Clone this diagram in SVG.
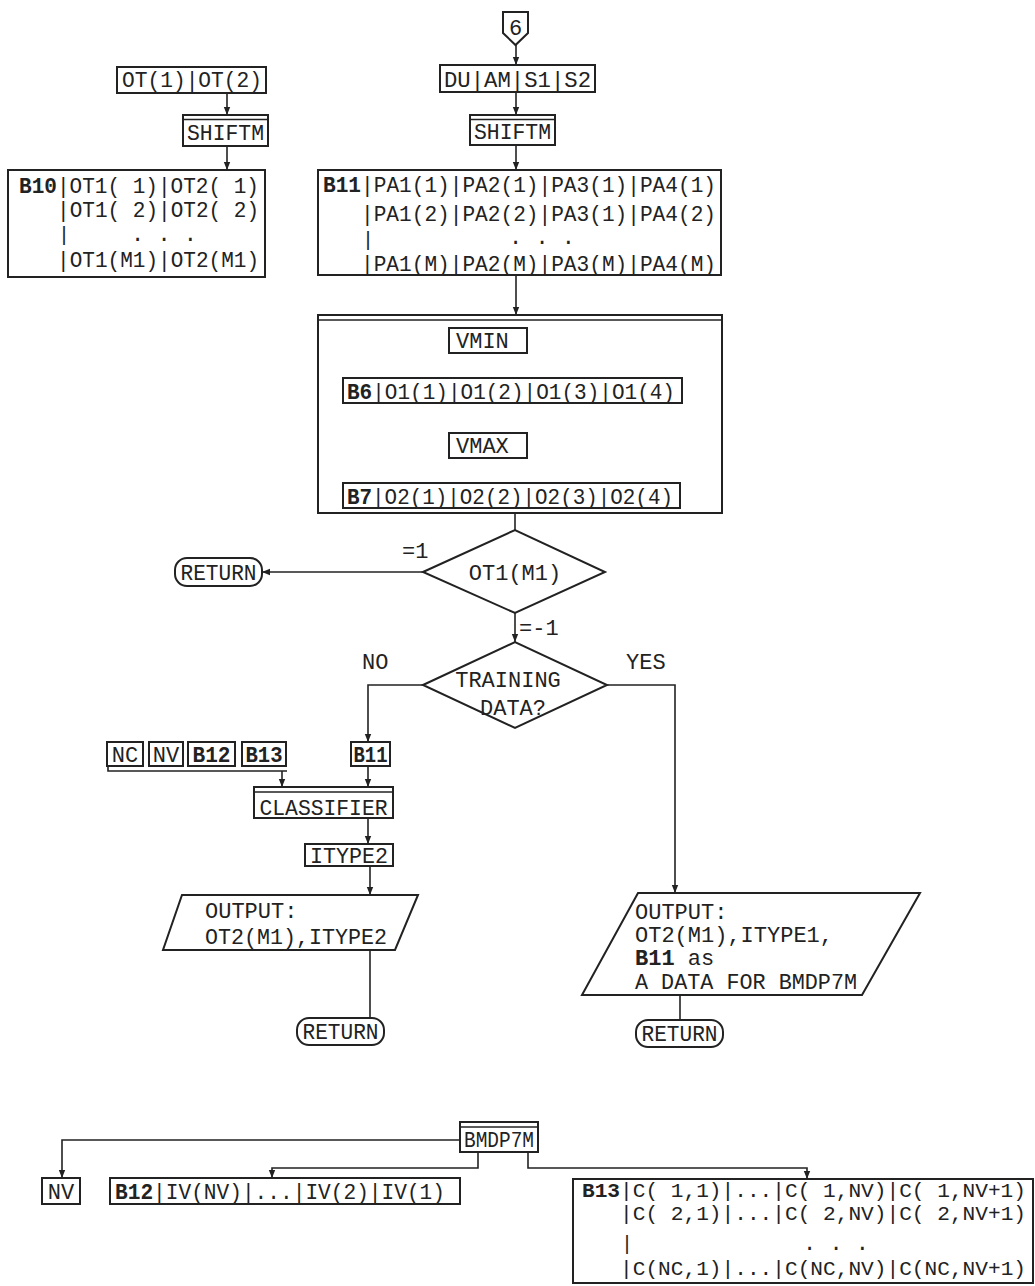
<svg xmlns="http://www.w3.org/2000/svg" width="1035" height="1286" viewBox="0 0 1035 1286" xml:space="preserve">
<style>
.t{font-family:"Liberation Mono","Courier New",monospace;font-size:22px;fill:#222}
.s{font-size:20px}
.b{font-weight:bold}
.m{text-anchor:middle}
.box{fill:#fff;stroke:#222;stroke-width:2}
.ln{fill:none;stroke:#222;stroke-width:1.6}
.arr{fill:none;stroke:#222;stroke-width:1.6;marker-end:url(#ah)}
</style>
<defs>
<marker id="ah" viewBox="0 0 10 10" refX="10" refY="5" markerWidth="8" markerHeight="8" markerUnits="userSpaceOnUse" orient="auto"><path d="M0,1 L10,5 L0,9 z" fill="#222"/></marker>
</defs>
<rect width="1035" height="1286" fill="#fff"/>
<g id="connectors">
<path class="arr" d="M227,93 V115"/>
<path class="arr" d="M227,146 V170"/>
<path class="arr" d="M516,45 V65"/>
<path class="arr" d="M516,92 V115"/>
<path class="arr" d="M516,145 V170"/>
<path class="arr" d="M516,275 V315"/>
<path class="arr" d="M486,353 V378"/>
<path class="arr" d="M486,458 V483"/>
<path class="ln" d="M515,513 V530"/>
<path class="arr" d="M423,572 H262"/>
<path class="arr" d="M515,613 V642"/>
<path class="arr" d="M423,685 H368 V742"/>
<path class="arr" d="M607,685 H675 V893"/>
<path class="ln" d="M108,766 V771 H287"/>
<path class="arr" d="M282,771 V787"/>
<path class="arr" d="M368,766 V787"/>
<path class="arr" d="M368,818 V844"/>
<path class="arr" d="M370,866 V895"/>
<path class="ln" d="M370,950 V1018"/>
<path class="ln" d="M680,995 V1020"/>
<path class="arr" d="M460,1140 H62 V1178"/>
<path class="arr" d="M478,1152 V1168 H272 V1178"/>
<path class="arr" d="M528,1152 V1168 H807 V1179"/>
</g>
<g id="ot-input">
<rect class="box" x="117" y="67" width="149" height="26"/>
<text class="t" x="122" y="87" textLength="140" lengthAdjust="spacingAndGlyphs">OT(1)|OT(2)</text>
</g>
<g id="shiftm-left">
<rect class="box" x="183" y="115" width="85" height="31"/>
<line class="ln" x1="183" y1="119.5" x2="268" y2="119.5"/>
<text class="t" x="187" y="140" textLength="77" lengthAdjust="spacingAndGlyphs">SHIFTM</text>
</g>
<g id="b10">
<rect class="box" x="8" y="170" width="257" height="107"/>
<text class="t" x="19" y="193" textLength="240" lengthAdjust="spacingAndGlyphs"><tspan class="b">B10</tspan>|OT1( 1)|OT2( 1)</text>
<text class="t" x="57" y="217" textLength="202" lengthAdjust="spacingAndGlyphs">|OT1( 2)|OT2( 2)</text>
<text class="t s" x="58" y="241">|</text>
<text class="t m" x="164" y="241">. . .</text>
<text class="t" x="57" y="267" textLength="202" lengthAdjust="spacingAndGlyphs">|OT1(M1)|OT2(M1)</text>
</g>
<g id="connector6">
<path class="box" d="M503,12 H528 V33 L515.5,45 L503,33 Z"/>
<text class="t m" x="515.5" y="35">6</text>
</g>
<g id="du-am-s1-s2">
<rect class="box" x="440" y="65" width="155" height="27"/>
<text class="t" x="444" y="87" textLength="147" lengthAdjust="spacingAndGlyphs">DU|AM|S1|S2</text>
</g>
<g id="shiftm-right">
<rect class="box" x="470" y="115" width="85" height="30"/>
<line class="ln" x1="470" y1="119.5" x2="555" y2="119.5"/>
<text class="t" x="474" y="139" textLength="77" lengthAdjust="spacingAndGlyphs">SHIFTM</text>
</g>
<g id="b11">
<rect class="box" x="318" y="170" width="403" height="105"/>
<text class="t" x="323" y="192" textLength="393" lengthAdjust="spacingAndGlyphs"><tspan class="b">B11</tspan>|PA1(1)|PA2(1)|PA3(1)|PA4(1)</text>
<text class="t" x="361" y="221" textLength="355" lengthAdjust="spacingAndGlyphs">|PA1(2)|PA2(2)|PA3(1)|PA4(2)</text>
<text class="t s" x="362" y="246">|</text>
<text class="t m" x="542" y="244">. . .</text>
<text class="t" x="361" y="271" textLength="355" lengthAdjust="spacingAndGlyphs">|PA1(M)|PA2(M)|PA3(M)|PA4(M)</text>
</g>
<g id="minmax">
<rect class="box" x="318" y="315" width="404" height="198"/>
<line class="ln" x1="318" y1="320" x2="722" y2="320"/>
<g id="vmin">
<rect class="box" x="449" y="328" width="78" height="25"/>
<text class="t" x="456" y="348">VMIN</text>
</g>
<g id="b6">
<rect class="box" x="343" y="378" width="339" height="25"/>
<text class="t" x="347" y="399" textLength="328" lengthAdjust="spacingAndGlyphs"><tspan class="b">B6</tspan>|O1(1)|O1(2)|O1(3)|O1(4)</text>
</g>
<g id="vmax">
<rect class="box" x="449" y="433" width="78" height="25"/>
<text class="t" x="456" y="453">VMAX</text>
</g>
<g id="b7">
<rect class="box" x="343" y="483" width="337" height="25"/>
<text class="t" x="347" y="504" textLength="326" lengthAdjust="spacingAndGlyphs"><tspan class="b">B7</tspan>|O2(1)|O2(2)|O2(3)|O2(4)</text>
</g>
</g>
<g id="decision-ot1">
<path class="box" d="M423,572 L515,530 L605,572 L515,613 Z"/>
<text class="t m" x="515" y="580">OT1(M1)</text>
<text class="t" x="402" y="558">=1</text>
<text class="t" x="519" y="635">=-1</text>
</g>
<g id="return-top">
<rect class="box" x="175" y="558" width="87" height="28" rx="12"/>
<text class="t m" x="218.5" y="580" textLength="76" lengthAdjust="spacingAndGlyphs">RETURN</text>
</g>
<g id="decision-training">
<path class="box" d="M423,685 L515,642 L607,685 L515,728 Z"/>
<text class="t m" x="508" y="687">TRAINING</text>
<text class="t m" x="513" y="715">DATA?</text>
<text class="t" x="362" y="669">NO</text>
<text class="t" x="626" y="669">YES</text>
</g>
<g id="nc"><rect class="box" x="107" y="742" width="36" height="24"/><text class="t m" x="125" y="762">NC</text></g>
<g id="nv-in"><rect class="box" x="149" y="742" width="34" height="24"/><text class="t m" x="166" y="762">NV</text></g>
<g id="b12-in"><rect class="box" x="188" y="742" width="47" height="24"/><text class="t m b" x="211.5" y="762" textLength="38" lengthAdjust="spacingAndGlyphs">B12</text></g>
<g id="b13-in"><rect class="box" x="242" y="742" width="44" height="24"/><text class="t m b" x="264" y="762" textLength="37" lengthAdjust="spacingAndGlyphs">B13</text></g>
<g id="b11-in"><rect class="box" x="351" y="742" width="39" height="24"/><text class="t m b" x="370.5" y="762" textLength="34" lengthAdjust="spacingAndGlyphs">B11</text></g>
<g id="classifier">
<rect class="box" x="254" y="787" width="139" height="31"/>
<line class="ln" x1="254" y1="792" x2="393" y2="792"/>
<text class="t m" x="323.5" y="815" textLength="128" lengthAdjust="spacingAndGlyphs">CLASSIFIER</text>
</g>
<g id="itype2">
<rect class="box" x="305" y="844" width="88" height="22"/>
<text class="t m" x="349" y="863" textLength="78" lengthAdjust="spacingAndGlyphs">ITYPE2</text>
</g>
<g id="output-left">
<path class="box" d="M182,895 H418 L395,950 H163 Z"/>
<text class="t" x="205" y="918">OUTPUT:</text>
<text class="t" x="205" y="944" textLength="182" lengthAdjust="spacingAndGlyphs">OT2(M1),ITYPE2</text>
</g>
<g id="return-left">
<rect class="box" x="297" y="1018" width="87" height="27" rx="12"/>
<text class="t m" x="340.5" y="1039" textLength="76" lengthAdjust="spacingAndGlyphs">RETURN</text>
</g>
<g id="output-right">
<path class="box" d="M638,893 H920 L862,995 H582 Z"/>
<text class="t" x="635" y="919">OUTPUT:</text>
<text class="t" x="635" y="942" textLength="198" lengthAdjust="spacingAndGlyphs">OT2(M1),ITYPE1,</text>
<text class="t" x="635" y="965"><tspan class="b">B11</tspan> as</text>
<text class="t" x="635" y="989" textLength="222" lengthAdjust="spacingAndGlyphs">A DATA FOR BMDP7M</text>
</g>
<g id="return-right">
<rect class="box" x="636" y="1020" width="87" height="27" rx="12"/>
<text class="t m" x="679.5" y="1041" textLength="76" lengthAdjust="spacingAndGlyphs">RETURN</text>
</g>
<g id="bmdp7m">
<rect class="box" x="460" y="1122" width="78" height="30"/>
<line class="ln" x1="460" y1="1127" x2="538" y2="1127"/>
<text class="t" x="464" y="1147" textLength="70" lengthAdjust="spacingAndGlyphs">BMDP7M</text>
</g>
<g id="nv">
<rect class="box" x="42" y="1178" width="38" height="26"/>
<text class="t m" x="61" y="1199">NV</text>
</g>
<g id="b12">
<rect class="box" x="110" y="1178" width="350" height="26"/>
<text class="t" x="115" y="1199" textLength="330" lengthAdjust="spacingAndGlyphs"><tspan class="b">B12</tspan>|IV(NV)|...|IV(2)|IV(1)</text>
</g>
<g id="b13">
<rect class="box" x="573" y="1179" width="460" height="104"/>
<text class="t s" x="582" y="1197" textLength="444" lengthAdjust="spacingAndGlyphs"><tspan class="b">B13</tspan>|C( 1,1)|...|C( 1,NV)|C( 1,NV+1)</text>
<text class="t s" x="620" y="1220" textLength="406" lengthAdjust="spacingAndGlyphs">|C( 2,1)|...|C( 2,NV)|C( 2,NV+1)</text>
<text class="t s" x="621" y="1250">|</text>
<text class="t m" x="836" y="1250">. . .</text>
<text class="t s" x="620" y="1275" textLength="406" lengthAdjust="spacingAndGlyphs">|C(NC,1)|...|C(NC,NV)|C(NC,NV+1)</text>
</g>
</svg>
